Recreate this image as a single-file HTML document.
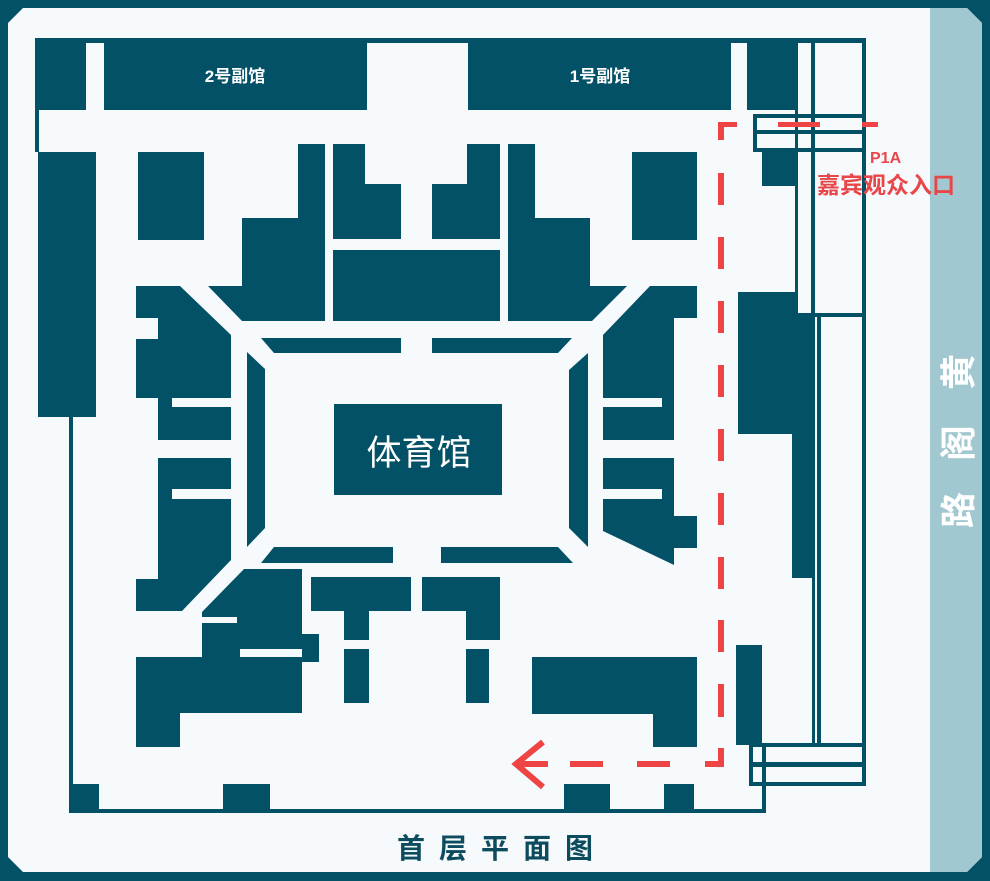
<!DOCTYPE html>
<html><head><meta charset="utf-8"><style>
html,body{margin:0;padding:0;background:#f7fafc;}
svg{display:block;}
text{font-family:"Liberation Sans","Noto Sans CJK SC",sans-serif;}
</style></head><body>
<svg width="990" height="881" viewBox="0 0 990 881" xmlns="http://www.w3.org/2000/svg">
<rect x="0" y="0" width="990" height="881" fill="#035166"/>
<polygon points="23,8 967,8 982,23 982,857 967,872 23,872 8,857 8,23" fill="#f7fafc"/>
<polygon points="930,8 967,8 982,23 982,857 967,872 930,872" fill="#a1c8d0"/>
<g fill="#035166">
<!-- top strip -->
<rect x="35" y="38" width="830" height="5"/>
<rect x="35" y="38" width="51" height="72"/>
<rect x="104" y="38" width="263" height="72"/>
<rect x="468" y="38" width="263" height="72"/>
<rect x="747" y="38" width="48" height="72"/>
<rect x="35" y="110" width="4" height="42"/>
<!-- right column lines -->
<rect x="795" y="38" width="3" height="276"/>
<rect x="811" y="38" width="4" height="276"/>
<rect x="862" y="38" width="4" height="278"/>
<rect x="811" y="313" width="55" height="4"/>
<!-- entrance box -->
<rect x="753" y="114" width="113" height="4"/>
<rect x="753" y="130" width="113" height="4"/>
<rect x="753" y="148" width="113" height="4"/>
<rect x="753" y="114" width="4" height="38"/>
<rect x="762" y="152" width="33" height="34"/>
<!-- left column -->
<rect x="38" y="152" width="58" height="265"/>
<rect x="69" y="417" width="4" height="396"/>
<rect x="69" y="809" width="697" height="4"/>
<rect x="762" y="743" width="4" height="70"/>
<!-- bottom stubs -->
<rect x="70" y="784" width="29" height="28"/>
<rect x="223" y="784" width="47" height="28"/>
<rect x="564" y="784" width="46" height="28"/>
<rect x="664" y="784" width="30" height="28"/>
<!-- top blocks -->
<rect x="138" y="152" width="66" height="88"/>
<polygon points="298,144 325,144 325,321 242,321 208,286 242,286 242,218 298,218"/>
<polygon points="333,144 365,144 365,184 401,184 401,239 333,239"/>
<polygon points="432,184 467,184 467,144 500,144 500,239 432,239"/>
<rect x="333" y="250" width="167" height="71"/>
<polygon points="508,144 535,144 535,218 590,218 590,286 627,286 592,321 508,321"/>
<rect x="632" y="152" width="65" height="88"/>
<!-- arena ring -->
<polygon points="261,338 401,338 401,353 274,353"/>
<polygon points="432,338 572,338 558,353 432,353"/>
<polygon points="247,352 265,369 265,528 247,547"/>
<polygon points="569,370 588,353 588,547 569,528"/>
<polygon points="274,547 393,547 393,563 261,563"/>
<polygon points="441,547 558,547 573,563 441,563"/>
<rect x="334" y="404" width="168" height="91"/>
<!-- left wing -->
<polygon points="136,286 180,286 231,335 231,398 172,398 172,407 231,407 231,440 158,440 158,398 136,398 136,339 158,339 158,318 136,318"/>
<polygon points="158,458 231,458 231,489 172,489 172,499 231,499 231,560 182,611 136,611 136,579 158,579"/>
<polygon points="202,612 244,569 302,569 302,649 240,649 240,657 302,657 302,713 180,713 180,747 136,747 136,657 202,657 202,623 237,623 237,617 202,617"/>
<rect x="302" y="634" width="17" height="28"/>
<!-- T blocks -->
<rect x="311" y="577" width="100" height="34"/>
<rect x="344" y="611" width="25" height="29"/>
<rect x="344" y="649" width="25" height="54"/>
<rect x="422" y="577" width="78" height="34"/>
<rect x="466" y="611" width="34" height="29"/>
<rect x="466" y="649" width="23" height="54"/>
<!-- right wing -->
<polygon points="650,286 697,286 697,318 674,318 674,440 603,440 603,407 662,407 662,398 603,398 603,335"/>
<polygon points="603,458 674,458 674,516 697,516 697,548 674,548 674,565 603,531 603,499 662,499 662,489 603,489"/>
<!-- block O -->
<polygon points="532,657 697,657 697,747 653,747 653,714 532,714"/>
<!-- block M -->
<polygon points="738,292 798,292 798,313 815,313 815,578 792,578 792,434 738,434"/>
<rect x="817" y="315" width="4" height="430"/>
<rect x="812" y="578" width="3" height="167"/>
<rect x="862" y="315" width="4" height="430"/>
<rect x="736" y="645" width="26" height="100"/>
<!-- bottom right box -->
<rect x="749" y="743" width="117" height="4"/>
<rect x="749" y="762" width="117" height="5"/>
<rect x="749" y="782" width="117" height="4"/>
<rect x="749" y="743" width="4" height="43"/>
<rect x="862" y="743" width="4" height="43"/>
</g>
<!-- labels -->
<g fill="#ffffff" font-weight="bold">
<text x="235" y="82" font-size="17" text-anchor="middle">2号副馆</text>
<text x="600" y="82" font-size="17" text-anchor="middle">1号副馆</text>
<text x="419" y="465" font-size="35" text-anchor="middle" font-weight="normal">体育馆</text>
<text x="958" y="385" font-size="36" text-anchor="middle" transform="rotate(-90 958 372)">黄</text>
<text x="958" y="456" font-size="36" text-anchor="middle" transform="rotate(-90 958 443)">阁</text>
<text x="958" y="523" font-size="36" text-anchor="middle" transform="rotate(-90 958 510)">路</text>
</g>
<text x="397" y="858" font-size="28" font-weight="bold" fill="#0d4b5e" letter-spacing="14">首层平面图</text>
<!-- red path -->
<g fill="#ef4444">
<rect x="718" y="122" width="19" height="5"/>
<rect x="718" y="122" width="6" height="18"/>
<rect x="778" y="122" width="42" height="5"/>
<rect x="862" y="122" width="16" height="5"/>
<rect x="718" y="173" width="6" height="32"/>
<rect x="718" y="237" width="6" height="32"/>
<rect x="718" y="301" width="6" height="32"/>
<rect x="718" y="365" width="6" height="32"/>
<rect x="718" y="429" width="6" height="32"/>
<rect x="718" y="493" width="6" height="32"/>
<rect x="718" y="557" width="6" height="32"/>
<rect x="718" y="620" width="6" height="32"/>
<rect x="718" y="684" width="6" height="33"/>
<rect x="718" y="748" width="6" height="19"/>
<rect x="705" y="761" width="19" height="6"/>
<rect x="637" y="761" width="33" height="6"/>
<rect x="570" y="761" width="33" height="6"/>
<rect x="520" y="761" width="28" height="6"/>
</g>
<polyline points="543,742 516,764 543,787" fill="none" stroke="#ef4444" stroke-width="6"/>
<text x="870" y="163" font-size="16" font-weight="bold" fill="#e8474a">P1A</text>
<text x="817" y="193" font-size="23" font-weight="bold" fill="#e8474a">嘉宾观众入口</text>
</svg>
</body></html>
